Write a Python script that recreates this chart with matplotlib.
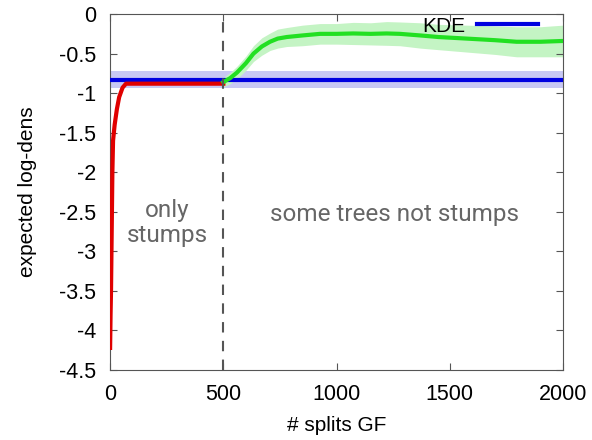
import numpy as np
import matplotlib.pyplot as plt

# red: only stumps
red_x = [0, 2, 4, 6, 8, 10, 13, 20, 30, 40, 55, 70, 100, 200, 300, 400, 500]
red_y = [-4.22, -3.8, -3.5, -3.0, -2.5, -2.0, -1.6, -1.4, -1.2, -1.05, -0.93, -0.88,
         -0.88, -0.88, -0.88, -0.88, -0.88]

# green: some trees not stumps
green_x = [500, 530, 560, 600, 633, 670, 706, 740, 780, 850, 927, 1000, 1074, 1150,
           1221, 1280, 1369, 1450, 1575, 1700, 1795, 1900, 2000]
green_y = [-0.86, -0.81, -0.74, -0.62, -0.50, -0.41, -0.35, -0.31, -0.29, -0.27, -0.25,
           -0.25, -0.245, -0.25, -0.245, -0.25, -0.27, -0.29, -0.31, -0.33, -0.35, -0.35, -0.34]
green_err = [0.06, 0.07, 0.08, 0.09, 0.10, 0.11, 0.11, 0.12, 0.12, 0.13, 0.13,
             0.13, 0.14, 0.14, 0.15, 0.15, 0.16, 0.16, 0.17, 0.18, 0.19, 0.19, 0.2]

kde_y = -0.83
kde_err = 0.11

fig, ax = plt.subplots(figsize=(5.92, 4.40), dpi=100)
fig.subplots_adjust(left=0.186, right=0.951, top=0.968, bottom=0.159)

ax.axhspan(kde_y - kde_err, kde_y + kde_err, color='#c8c8f4', lw=0, zorder=1)
gx = np.array(green_x)
gy = np.array(green_y)
ge = np.array(green_err)
ax.fill_between(gx, gy - ge, gy + ge, color='#c4f4c4', lw=0, zorder=1)

ax.axhline(kde_y, color='#0000e0', lw=3, zorder=3, label='KDE')
ax.plot(red_x, red_y, color='#e00000', lw=3, zorder=4)
ax.plot(green_x, green_y, color='#22e022', lw=3, zorder=4)
ax.axvline(500, color='#555555', lw=1.5, ls=(0, (5, 4)), zorder=5)

ax.text(252, -2.64, 'only\nstumps', ha='center', va='center', color='#666666',
        fontsize=17.5, family='Roboto', linespacing=1.15)
ax.text(1258, -2.54, 'some trees not stumps', ha='center', va='center',
        color='#666666', fontsize=17.5, family='Roboto')

ax.set_xlim(0, 2000)
ax.set_ylim(-4.5, 0)
ax.set_xticks([0, 500, 1000, 1500, 2000])
ax.set_yticks(np.arange(-4.5, 0.01, 0.5))
ax.set_yticklabels(['-4.5', '-4', '-3.5', '-3', '-2.5', '-2', '-1.5', '-1', '-0.5', '0'])
ax.tick_params(direction='in', top=True, right=True, length=5, color='#555555',
               labelsize=15.5, pad=10)
for lbl in ax.get_xticklabels() + ax.get_yticklabels():
    lbl.set_family('Liberation Sans')
for s in ax.spines.values():
    s.set_color('#555555')

ax.set_xlabel('# splits GF', fontsize=15, family='Liberation Sans', labelpad=8)
ax.set_ylabel('expected log-dens', fontsize=15, family='Liberation Sans', labelpad=16)

ax.legend(loc='upper right', frameon=False, handlelength=2.9, handletextpad=0.6,
          markerfirst=False, prop={'family': 'Liberation Sans', 'size': 15},
          borderaxespad=0, bbox_to_anchor=(0.963, 1.016))

fig.savefig('out.png')
